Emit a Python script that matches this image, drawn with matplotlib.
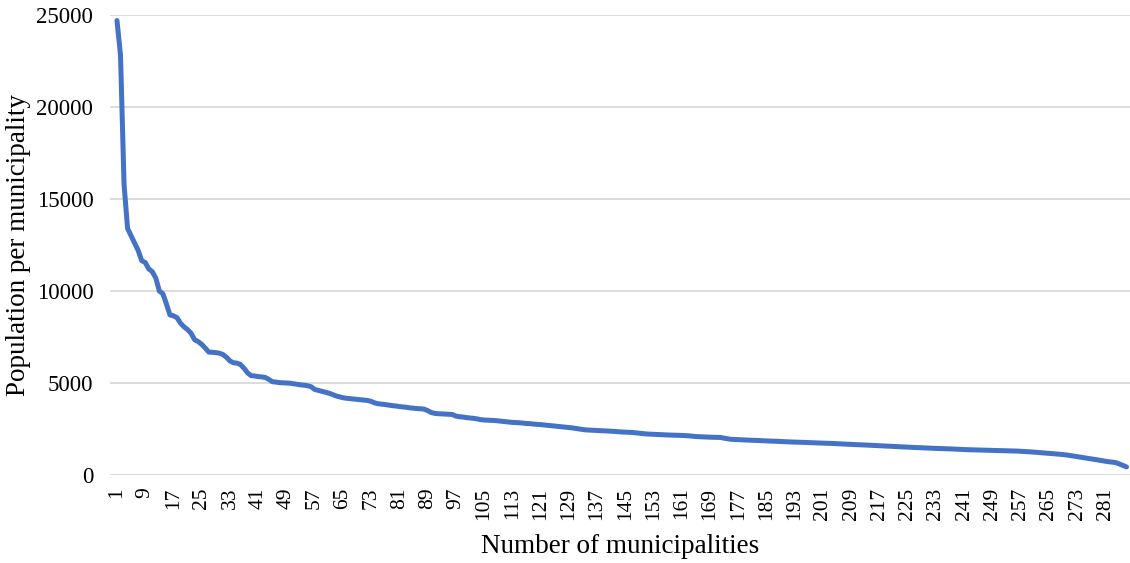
import matplotlib
matplotlib.use("Agg")
import matplotlib.pyplot as plt
import numpy as np

population = [
    24700, 22800, 15800, 13400, 13000, 12600, 12200, 11650, 11550, 11200,
    11050, 10700, 10000, 9850, 9300, 8700, 8650, 8550, 8250, 8050,
    7900, 7700, 7350, 7250, 7100, 6900, 6680, 6670, 6650, 6620,
    6550, 6400, 6200, 6100, 6080, 6000, 5800, 5550, 5400, 5380,
    5350, 5330, 5300, 5200, 5070, 5050, 5020, 5010, 5000, 4990,
    4960, 4930, 4900, 4880, 4850, 4800, 4650, 4600, 4550, 4500,
    4450, 4380, 4300, 4250, 4200, 4170, 4150, 4130, 4110, 4090,
    4070, 4050, 4000, 3920, 3870, 3850, 3830, 3800, 3770, 3750,
    3720, 3700, 3680, 3650, 3630, 3610, 3600, 3580, 3500, 3400,
    3350, 3330, 3320, 3310, 3300, 3290, 3200, 3170, 3150, 3120,
    3100, 3080, 3050, 3010, 2990, 2980, 2970, 2960, 2940, 2920,
    2900, 2880, 2860, 2850, 2840, 2820, 2800, 2790, 2770, 2750,
    2740, 2720, 2700, 2680, 2660, 2640, 2620, 2600, 2580, 2560,
    2530, 2500, 2470, 2450, 2440, 2430, 2420, 2410, 2400, 2390,
    2380, 2370, 2350, 2340, 2330, 2320, 2310, 2290, 2270, 2250,
    2230, 2220, 2210, 2200, 2190, 2180, 2175, 2170, 2165, 2160,
    2150, 2140, 2130, 2110, 2090, 2080, 2070, 2060, 2055, 2050,
    2045, 2040, 2000, 1970, 1940, 1930, 1920, 1910, 1900, 1895,
    1890, 1880, 1870, 1860, 1850, 1845, 1840, 1830, 1820, 1810,
    1800, 1795, 1790, 1780, 1775, 1770, 1760, 1750, 1745, 1740,
    1735, 1725, 1720, 1710, 1700, 1690, 1680, 1670, 1665, 1655,
    1645, 1640, 1630, 1620, 1610, 1600, 1590, 1580, 1570, 1560,
    1550, 1545, 1535, 1525, 1515, 1505, 1495, 1490, 1480, 1470,
    1460, 1450, 1445, 1440, 1430, 1425, 1420, 1410, 1400, 1395,
    1385, 1375, 1370, 1360, 1355, 1350, 1345, 1340, 1335, 1330,
    1325, 1320, 1315, 1310, 1305, 1300, 1290, 1280, 1270, 1255,
    1240, 1225, 1210, 1195, 1180, 1165, 1150, 1130, 1110, 1090,
    1060, 1030, 1000, 970, 940, 910, 880, 850, 815, 780,
    750, 720, 700, 670, 600, 520, 440,
]
municipality = list(range(1, len(population) + 1))
x_tick_labels = [str(v) for v in range(1, 282, 8)]
y_ticks = [0, 5000, 10000, 15000, 20000, 25000]

plt.rcParams['font.family'] = ['Liberation Serif', 'DejaVu Serif']

fig = plt.figure(figsize=(11.3, 5.63), dpi=100)
ax = fig.add_axes([110 / 1130, 88 / 563, 1020 / 1130, 460 / 563])

ax.plot(municipality, population, color='#4472C4', linewidth=3.6,
        solid_joinstyle='round', solid_capstyle='round', zorder=3)

ax.set_ylim(0, 25000)
ax.set_yticks(y_ticks)
ax.set_yticklabels([str(v) for v in y_ticks], fontsize=16.5)
ax.set_xlim(-0.98, 288)
ax.set_xticks([int(s) for s in x_tick_labels])
ax.set_xticklabels(x_tick_labels, rotation=90, fontsize=15.5)
ax.tick_params(axis='both', length=0)
ax.tick_params(axis='y', pad=12)
ax.tick_params(axis='x', pad=9)

ax.grid(axis='y', color='#d9d9d9', linewidth=1.3, zorder=0)
ax.set_axisbelow(True)
for s in ax.spines.values():
    s.set_visible(False)

ax.set_ylabel('Population per municipality', fontsize=19.5, labelpad=4)
ax.set_xlabel('Number of municipalities', fontsize=19.5, labelpad=10)

fig.savefig('out.png', dpi=100)
